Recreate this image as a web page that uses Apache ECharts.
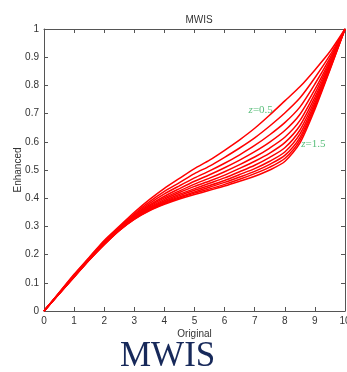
<!DOCTYPE html>
<html><head><meta charset="utf-8">
<script src="https://cdn.jsdelivr.net/npm/echarts@6/dist/echarts.min.js"></script>
<style>html,body{margin:0;padding:0;background:#fff;}#c{width:347px;height:372px;}</style>
</head><body><div id="c"></div>
<script>
var xValues = [0, 0.5, 1, 1.5, 2, 2.5, 3, 3.5, 4, 4.5, 5, 5.5, 6, 6.5, 7, 7.5, 8, 8.5, 9, 9.5, 10];
var zNames = ['z=0.5','z=0.6','z=0.7','z=0.8','z=0.9','z=1.0','z=1.1','z=1.2','z=1.3','z=1.4','z=1.5'];
var curve05 = [0,.065,.130,.190,.250,.300,.350,.395,.435,.470,.505,.535,.570,.607,.648,.695,.745,.795,.855,.920,1];
var curve06 = [0,.064,.128,.188,.247,.297,.345,.387,.424,.455,.487,.514,.545,.578,.614,.656,.702,.755,.827,.907,1];
var curve07 = [0,.063,.126,.186,.245,.295,.341,.381,.415,.444,.472,.497,.524,.554,.587,.625,.668,.723,.805,.897,1];
var curve08 = [0,.063,.125,.185,.243,.293,.338,.375,.407,.434,.460,.483,.508,.535,.565,.599,.640,.697,.786,.888,1];
var curve09 = [0,.062,.124,.184,.241,.291,.335,.371,.401,.426,.450,.471,.494,.519,.546,.578,.616,.675,.771,.881,1];
var curve10 = [0,.062,.123,.183,.240,.290,.333,.367,.396,.420,.442,.461,.482,.506,.531,.560,.597,.657,.758,.875,1];
var curve11 = [0,.061,.122,.182,.238,.288,.331,.364,.391,.414,.434,.453,.472,.494,.517,.545,.579,.641,.747,.870,1];
var curve12 = [0,.061,.122,.182,.237,.287,.329,.361,.387,.409,.428,.445,.463,.484,.505,.531,.564,.627,.737,.865,1];
var curve13 = [0,.061,.121,.181,.237,.287,.328,.359,.384,.404,.422,.439,.456,.475,.495,.520,.552,.615,.729,.862,1];
var curve14 = [0,.060,.121,.181,.236,.286,.326,.357,.381,.401,.418,.433,.449,.467,.487,.510,.541,.605,.722,.858,1];
var curve15 = [0,.060,.120,.180,.235,.285,.325,.355,.378,.397,.413,.428,.443,.460,.478,.500,.530,.595,.715,.855,1];
var curves = [curve05, curve06, curve07, curve08, curve09, curve10, curve11, curve12, curve13, curve14, curve15];
var xTicks = [0,1,2,3,4,5,6,7,8,9,10];
var yTicks = [0,0.1,0.2,0.3,0.4,0.5,0.6,0.7,0.8,0.9,1];
var curveLabels = [[7.2, 0.712, '0.5'], [8.95, 0.592, '1.5']];

var chart = echarts.init(document.getElementById('c'), null, {renderer:'canvas'});
function axisCommon(){
  return {
    axisLine:{show:true, onZero:false, lineStyle:{color:'#555', width:1}},
    axisTick:{show:true, inside:true, length:4, lineStyle:{color:'#555'}},
    splitLine:{show:false}
  };
}
var series = curves.map(function(c, i){
  return {
    name: zNames[i], type:'line', smooth:0.25, symbol:'none',
    lineStyle:{color:'#ff0000', width:1.5},
    data: xValues.map(function(x, j){ return [x, c[j]]; }),
    z: 2
  };
});
series.push({
  type:'scatter', symbolSize:0, data: curveLabels, xAxisIndex:0, yAxisIndex:0,
  label:{show:true, position:'inside', formatter:function(p){return '{i|z}=' + p.data[2];},
    color:'#2fae5a', fontFamily:'Liberation Serif', fontSize:11,
    rich:{i:{fontStyle:'italic', fontFamily:'Liberation Serif', fontSize:11, color:'#2fae5a'}}},
  z: 10, silent:true
});
chart.setOption({
  animation:false,
  backgroundColor:'#fff',
  title:{text:'MWIS', left:194, top:10, textAlign:'center',
    textStyle:{fontFamily:'Liberation Sans', fontSize:10, fontWeight:'normal', color:'#333'}},
  graphic:[{type:'text', left:120, top:339, style:{text:'MWIS', font:'35px "Liberation Serif"', fill:'#17295a'}}],
  grid:{left:44, right:2, top:29, bottom:61, outerBoundsMode:'none', containLabel:false},
  xAxis:[
    Object.assign({type:'value', min:0, max:10, interval:1, name:'Original', nameLocation:'middle', nameGap:18,
      nameMoveOverlap:false,
      nameTextStyle:{fontFamily:'Liberation Sans', fontSize:10, color:'#333'},
      axisLabel:{fontFamily:'Liberation Sans', fontSize:10, color:'#333', margin:5,
        formatter:function(v){return xTicks.indexOf(v)>=0 ? String(v) : '';}}}, axisCommon()),
    Object.assign({type:'value', position:'top', min:0, max:10, interval:1, axisLabel:{show:false}}, axisCommon())
  ],
  yAxis:[
    Object.assign({type:'value', min:0, max:1, interval:0.1, name:'Enhanced', nameLocation:'middle', nameGap:21,
      nameMoveOverlap:false,
      nameTextStyle:{fontFamily:'Liberation Sans', fontSize:10, color:'#333'},
      axisLabel:{fontFamily:'Liberation Sans', fontSize:10, color:'#333', margin:5,
        formatter:function(v){var r=Math.round(v*10)/10; return yTicks.indexOf(r)>=0 ? String(r) : '';}}}, axisCommon()),
    Object.assign({type:'value', position:'right', min:0, max:1, interval:0.1, axisLabel:{show:false}}, axisCommon())
  ],
  series: series
});
</script></body></html>
